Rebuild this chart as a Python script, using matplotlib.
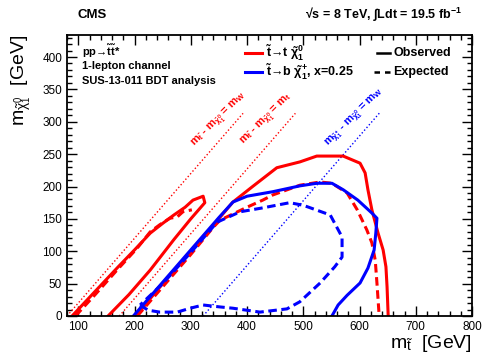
import matplotlib
matplotlib.use("Agg")
import matplotlib.pyplot as plt
from matplotlib.ticker import MultipleLocator

plt.rcParams['font.family'] = ['Liberation Sans', 'DejaVu Sans']
plt.rcParams['mathtext.fontset'] = 'custom'
plt.rcParams['mathtext.rm'] = 'Liberation Sans'
plt.rcParams['mathtext.it'] = 'Liberation Sans'
plt.rcParams['mathtext.bf'] = 'Liberation Sans:bold'
plt.rcParams['mathtext.default'] = 'regular'

# --- exclusion contours (stop mass vs LSP mass, GeV) ---
# t~ -> t chi0, observed: small island near the m_W diagonal
red_obs_island_x = [89, 130, 170, 200, 228, 250, 270, 290, 304, 322, 325, 300, 270, 228, 190, 153]
red_obs_island_y = [0, 38, 75, 102, 128, 143, 156, 168, 179, 185, 175, 150, 118, 71, 33, 0]
# t~ -> t chi0, expected: small island
red_exp_island_x = [95, 130, 170, 205, 228, 245, 263, 276, 286, 302]
red_exp_island_y = [0, 33, 72, 105, 130, 141, 151, 153, 161, 164]
# t~ -> t chi0, observed: main region
red_obs_x = [203, 228, 260, 300, 340, 375, 410, 453, 494, 524, 571, 601, 610, 615, 622, 633, 642, 647, 649, 651]
red_obs_y = [0, 27, 60, 100, 140, 176, 200, 229, 238, 247, 247, 236, 221, 195, 164, 128, 102, 76, 45, 0]
# t~ -> t chi0, expected: main region
red_exp_x = [205, 250, 300, 340, 352, 400, 428, 446, 494, 530, 551, 578, 596, 613, 622, 628, 631, 635]
red_exp_y = [0, 45, 95, 137, 148, 168, 179, 187, 202, 207, 205, 190, 164, 133, 113, 86, 51, 0]
# t~ -> b chi+, x=0.25, observed
blue_obs_x = [198, 230, 270, 310, 350, 375, 400, 446, 494, 524, 551, 571, 597, 622, 631, 629, 626, 615, 601, 578, 562, 551]
blue_obs_y = [0, 32, 72, 112, 152, 176, 185, 192, 201, 205, 205, 195, 179, 159, 151, 128, 102, 74, 51, 32, 17, 0]
# t~ -> b chi+, x=0.25, expected
blue_exp_x = [210, 224, 245, 276, 299, 322, 352, 375, 423, 471, 494, 530, 556, 569, 569, 548, 500, 476, 428, 388, 347, 300, 250, 210]
blue_exp_y = [17, 9, 6, 6, 12, 17, 14, 12, 6, 11, 22, 51, 76, 91, 122, 156, 171, 175, 167, 161, 145, 98, 50, 17]

# kinematic boundaries
mw_line_x, mw_line_y = [80, 393], [0, 313]
mt_line_x, mt_line_y = [173, 486], [0, 313]
char_line_x, char_line_y = [322, 636], [0, 314]

xticks = [100, 200, 300, 400, 500, 600, 700, 800]
yticks = [0, 50, 100, 150, 200, 250, 300, 350, 400]

W, H = 483, 360
fig = plt.figure(figsize=(W / 100, H / 100), dpi=100)
ax = fig.add_axes([67 / W, 1 - 316 / H, (472 - 67) / W, (316 - 35) / H])
ax.set_xlim(80, 800)
ax.set_ylim(0, 434)

RED, BLUE = '#ff0000', '#0000ff'
lw = 2.2
dash = (2.8, 1.5)
dot = (0, (1, 1.6))

ax.plot(mw_line_x, mw_line_y, color=RED, lw=1.0, ls=dot)
ax.plot(mt_line_x, mt_line_y, color=RED, lw=1.0, ls=dot)
ax.plot(char_line_x, char_line_y, color=BLUE, lw=1.0, ls=dot)

ax.plot(red_exp_island_x, red_exp_island_y, color=RED, lw=lw, dashes=dash)
ax.plot(red_obs_island_x, red_obs_island_y, color=RED, lw=lw)
ax.plot(red_exp_x, red_exp_y, color=RED, lw=lw, dashes=dash)
ax.plot(red_obs_x, red_obs_y, color=RED, lw=lw)
ax.plot(blue_exp_x, blue_exp_y, color=BLUE, lw=lw, dashes=dash)
ax.plot(blue_obs_x, blue_obs_y, color=BLUE, lw=lw)

lab_kw = dict(rotation=45, rotation_mode='anchor', ha='center', va='center',
              fontsize=8, fontweight='bold')
ax.text(352, 303, r'$m_{\tilde{t}}$ - $m_{\tilde{\chi}^{0}_{1}}$ = $m_{W}$', color=RED, **lab_kw)
ax.text(436, 303, r'$m_{\tilde{t}}$ - $m_{\tilde{\chi}^{0}_{1}}$ = $m_{t}$', color=RED, **lab_kw)
ax.text(592, 306, r'$m_{\tilde{\chi}^{+}_{1}}$ - $m_{\tilde{\chi}^{0}_{1}}$ = $m_{W}$', color=BLUE, **lab_kw)

ax.xaxis.set_major_locator(MultipleLocator(100))
ax.xaxis.set_minor_locator(MultipleLocator(20))
ax.yaxis.set_major_locator(MultipleLocator(50))
ax.yaxis.set_minor_locator(MultipleLocator(10))
ax.set_xticks(xticks)
ax.set_yticks(yticks)
ax.tick_params(which='both', direction='in', top=True, right=True, width=1.0, labelsize=8.5)
ax.tick_params(which='major', length=7)
ax.tick_params(which='minor', length=3.5)
for s in ax.spines.values():
    s.set_linewidth(1.3)

ax.set_xlabel(r'$m_{\tilde{t}}$  [GeV]', fontsize=14, loc='right')
ax.xaxis.set_label_coords(1.0, -0.06)
ax.set_ylabel(r'$m_{\tilde{\chi}^{0}_{1}}$  [GeV]', fontsize=14, loc='top')
ax.yaxis.set_label_coords(-0.085, 1.0)

def ftext(px, py, s, **kw):
    fig.text(px / W, 1 - py / H, s, **kw)

ftext(78, 15, 'CMS', fontsize=9.5, fontweight='bold', va='center', ha='left')
ftext(462, 15, '√s = 8 TeV, ∫Ldt = 19.5 fb$^{-1}$',
      fontsize=9, fontweight='bold', va='center', ha='right')

ftext(82, 51, r'pp→$\tilde{t}\tilde{t}$*', fontsize=8, fontweight='bold', va='center')
ftext(82, 66, '1-lepton channel', fontsize=8, fontweight='bold', va='center')
ftext(82, 81, 'SUS-13-011 BDT analysis', fontsize=8, fontweight='bold', va='center')

# legend
def fline(x0, x1, py, **kw):
    fig.add_artist(plt.Line2D([x0 / W, x1 / W], [1 - py / H, 1 - py / H], **kw))

fline(245, 262, 53, color=RED, lw=lw)
fline(245, 262, 72, color=BLUE, lw=lw)
fline(377, 390, 53, color='black', lw=1.8)
fline(374, 391, 72, color='black', lw=1.8, dashes=(2.2, 2.0))
ftext(266, 53, r'$\tilde{t}$→t $\tilde{\chi}^{0}_{1}$', fontsize=9, fontweight='bold', va='center')
ftext(266, 72, r'$\tilde{t}$→b $\tilde{\chi}^{+}_{1}$, x=0.25', fontsize=9, fontweight='bold', va='center')
ftext(393, 53, 'Observed', fontsize=9, fontweight='bold', va='center')
ftext(393, 72, 'Expected', fontsize=9, fontweight='bold', va='center')

fig.savefig('out.png', dpi=100)
